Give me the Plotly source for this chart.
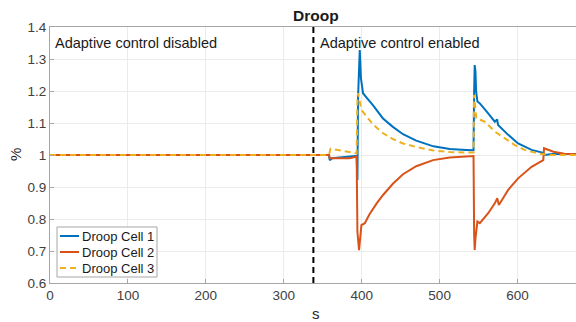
import plotly.graph_objects as go

# ---------------- data ----------------
t_cell1 = [0, 358, 359, 362, 393.5, 394.5, 395.3, 396.3, 397.5, 399, 401.7, 406, 414.6, 427, 440, 453, 470, 492, 513, 534, 543.5,
           544.3, 545, 546, 546.8, 548.5, 551.6, 562.3, 570.8, 573.8, 575, 588, 600.7, 618, 633, 635, 645, 660, 675]
cell1 = [1.0, 1.0, 0.984, 0.99, 0.997, 0.922, 1.18, 1.26, 1.328, 1.24, 1.193, 1.18, 1.155, 1.115, 1.088, 1.065, 1.045, 1.027, 1.019, 1.016, 1.015,
         1.2, 1.281, 1.26, 1.2, 1.167, 1.161, 1.13, 1.104, 1.111, 1.094, 1.063, 1.036, 1.016, 1.007, 1.0, 1.003, 1.003, 1.003]

t_cell2 = [0, 358, 359, 384.6, 393.5, 394.5, 396.6, 399.6, 404, 410, 419, 427.4, 440, 453, 470, 491.6, 513, 543.5,
           544.3, 545, 546, 548.5, 551.6, 562.3, 570.8, 574, 576, 588, 600.7, 618, 633, 634, 646, 660, 675]
cell2 = [1.0, 1.0, 0.99, 0.99, 0.995, 0.76, 0.703, 0.781, 0.787, 0.815, 0.848, 0.875, 0.91, 0.94, 0.965, 0.984, 0.992, 0.997,
         0.75, 0.703, 0.74, 0.792, 0.787, 0.818, 0.849, 0.865, 0.844, 0.891, 0.927, 0.963, 0.984, 1.021, 1.01, 1.004, 1.002]

t_cell3 = [0, 358, 360, 393.5, 394.5, 395.3, 399.6, 406, 414.6, 427.4, 440, 453, 470, 492, 513, 534, 543.5,
           544, 545, 547, 558, 571, 583.7, 596.5, 609, 626, 640, 675]
cell3 = [1.0, 1.0, 1.02, 1.005, 1.18, 1.193, 1.141, 1.12, 1.095, 1.068, 1.05, 1.036, 1.025, 1.014, 1.009, 1.008, 1.008,
         1.1875, 1.17, 1.115, 1.104, 1.073, 1.052, 1.031, 1.016, 1.005, 1.0, 1.0]

series_names = ["Droop Cell 1", "Droop Cell 2", "Droop Cell 3"]
series_colors = ["#0072BD", "#D95319", "#EDB120"]
series_dash = ["solid", "solid", "6px,4px"]
switch_time = 338
x_ticks = [0, 100, 200, 300, 400, 500, 600]
y_ticks = [0.6, 0.7, 0.8, 0.9, 1.0, 1.1, 1.2, 1.3, 1.4]
y_tick_labels = ["0.6", "0.7", "0.8", "0.9", "1", "1.1", "1.2", "1.3", "1.4"]
label_left = "Adaptive control disabled"
label_right = "Adaptive control enabled"

# ---------------- figure ----------------
FONT = "Liberation Sans, Arial, sans-serif"
W, H = 576, 322
L, R, T, B = 50, 0, 27, 39
PW, PH = W - L - R, H - T - B


def px_x(px):
    return (px - L) / PW


def px_y(py):
    return (H - B - py) / PH


fig = go.Figure()
for tx, vals, name, col, dash in zip([t_cell1, t_cell2, t_cell3], [cell1, cell2, cell3],
                                     series_names, series_colors, series_dash):
    fig.add_trace(go.Scatter(x=tx, y=vals, mode="lines", name=name, showlegend=False,
                             line=dict(color=col, width=2, dash=dash)))

fig.add_shape(type="line", xref="x", yref="paper", x0=switch_time, x1=switch_time, y0=0, y1=1,
              line=dict(color="black", width=2, dash="6px,4px"))

fig.add_annotation(x=4, y=1.35, xref="x", yref="y", text=label_left, showarrow=False,
                   xanchor="left", yanchor="middle", font=dict(family=FONT, size=14.5, color="#1a1a1a"))
fig.add_annotation(x=switch_time + 6, y=1.35, xref="x", yref="y", text=label_right, showarrow=False,
                   xanchor="left", yanchor="middle", font=dict(family=FONT, size=14.5, color="#1a1a1a"))

# title and axis labels
fig.add_annotation(x=px_x(316), y=px_y(15), xref="paper", yref="paper", text="<b>Droop</b>", showarrow=False,
                   xanchor="center", yanchor="middle", font=dict(family=FONT, size=15.5, color="#1a1a1a"))
fig.add_annotation(x=px_x(316), y=px_y(322), xref="paper", yref="paper",
                   text="s", showarrow=False, xanchor="center", yanchor="bottom", yshift=-2,
                   font=dict(family=FONT, size=15, color="#262626"))
fig.add_annotation(x=px_x(15), y=px_y(155), xref="paper", yref="paper",
                   text="%", showarrow=False, textangle=-90, xanchor="center", yanchor="middle",
                   font=dict(family=FONT, size=15, color="#262626"))

# custom legend (box, line samples, labels)
fig.add_shape(type="rect", xref="paper", yref="paper", x0=px_x(57), x1=px_x(157), y0=px_y(277), y1=px_y(227),
              line=dict(color="#a6a6a6", width=1), fillcolor="white", layer="above")
for i, (name, col, dash) in enumerate(zip(series_names, series_colors, series_dash)):
    ry = 236 + 16 * i
    fig.add_shape(type="line", xref="paper", yref="paper", x0=px_x(60), x1=px_x(79), y0=px_y(ry), y1=px_y(ry),
                  line=dict(color=col, width=2, dash=dash), layer="above")
    fig.add_annotation(x=px_x(80), y=px_y(ry), xref="paper", yref="paper", text=name, showarrow=False,
                       xanchor="left", yanchor="middle", font=dict(family=FONT, size=13, color="#1a1a1a"))

axis_common = dict(showgrid=True, gridcolor="#ebebeb", gridwidth=1, zeroline=False,
                   showline=True, linecolor="#a6a6a6", linewidth=1,
                   ticks="inside", ticklen=4, tickcolor="#a6a6a6",
                   tickfont=dict(family=FONT, size=13.5, color="#404040"))

fig.update_xaxes(range=[0, 675], tickvals=x_ticks, mirror=True, **axis_common)
fig.update_yaxes(range=[0.6, 1.4], tickvals=y_ticks, ticktext=y_tick_labels, mirror=False, **axis_common)

fig.update_layout(
    width=W, height=H, margin=dict(l=L, r=R, t=T, b=B),
    paper_bgcolor="white", plot_bgcolor="white",
    showlegend=False,
)

fig.write_html("out.html")
